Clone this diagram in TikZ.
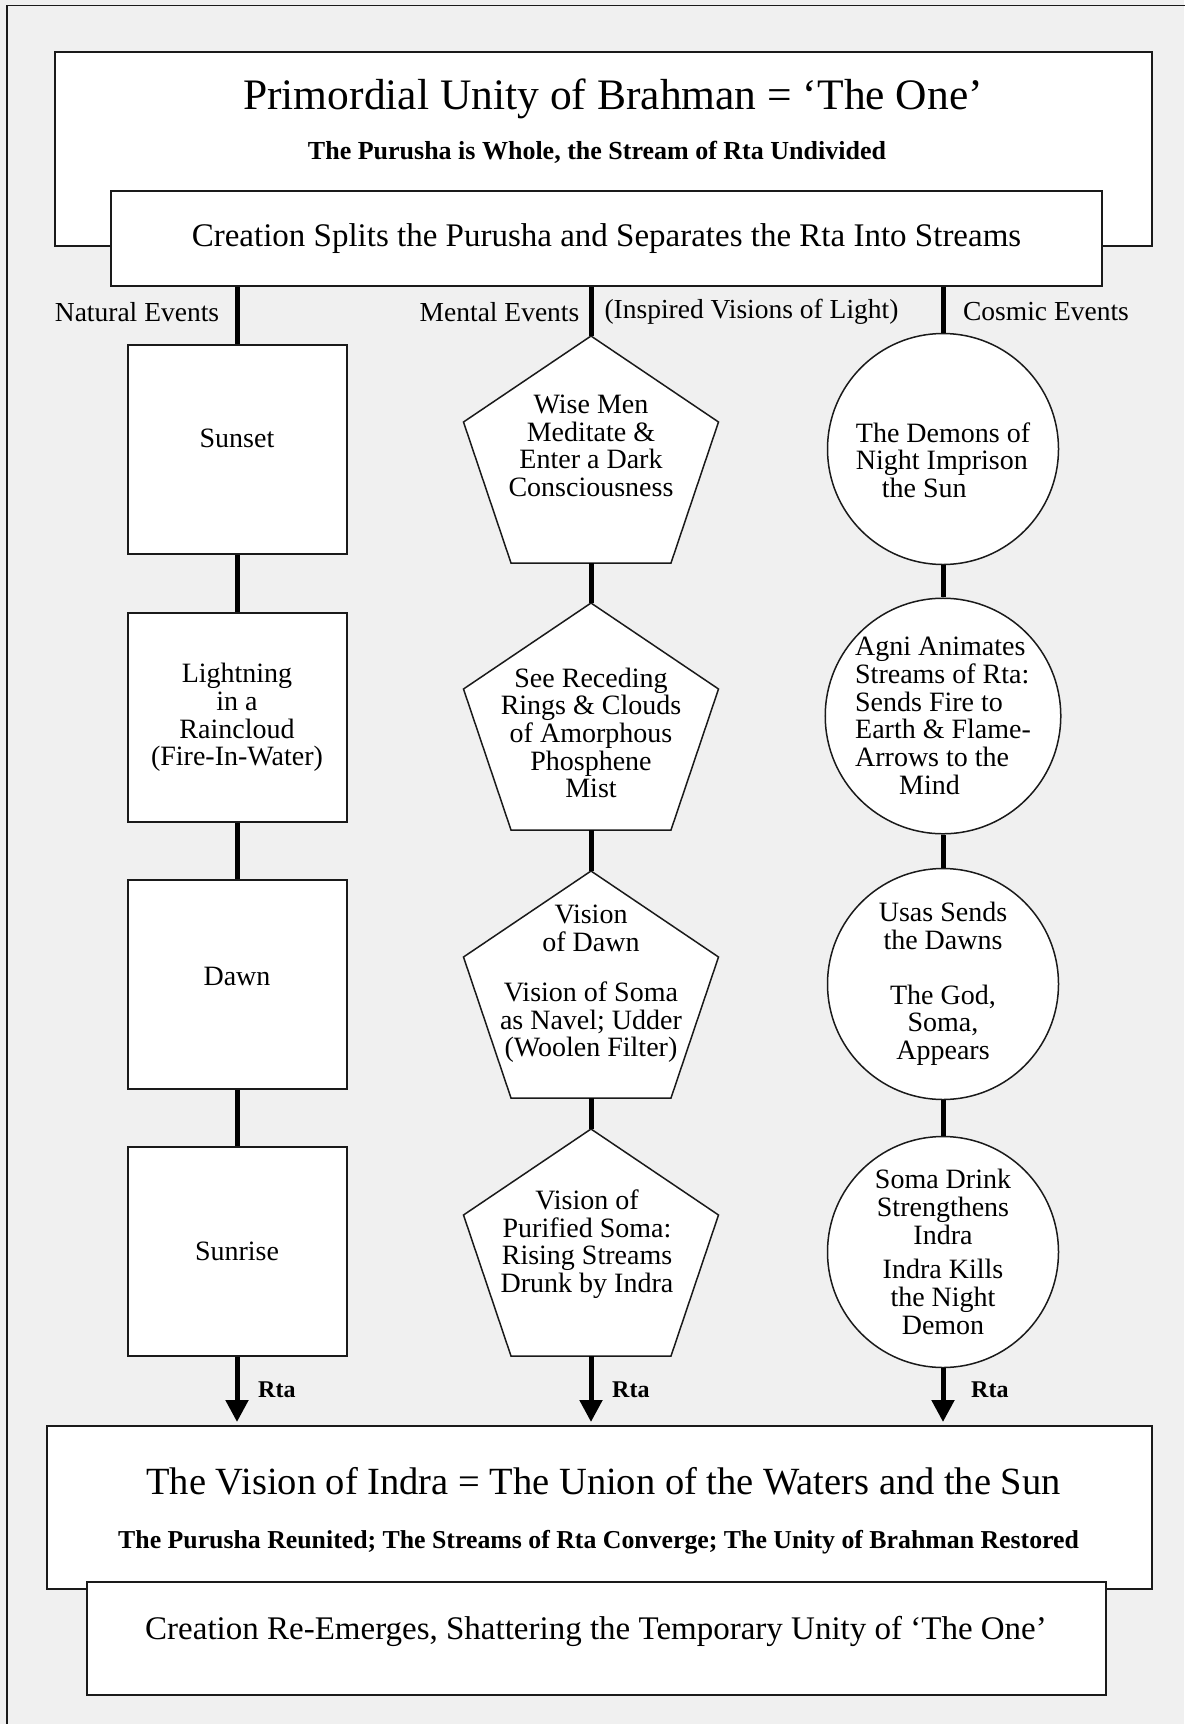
\documentclass[tikz,border=0pt]{standalone}
\usepackage{fontspec}
\setmainfont{Liberation Serif}
\usetikzlibrary{arrows.meta,calc}
\definecolor{bgc}{HTML}{F0F0F0}
\definecolor{edgec}{HTML}{1A1A1A}
\newcommand\mytitlefont{\fontsize{43.5}{50}\selectfont}
\newcommand\myvisfont{\fontsize{38.5}{44}\selectfont}
\newcommand\mysubfont{\fontsize{26}{30}\selectfont\bfseries}
\newcommand\myvissubfont{\fontsize{25.8}{30}\selectfont\bfseries}
\newcommand\mycreatefont{\fontsize{33}{38}\selectfont}
\newcommand\mylabelfont{\fontsize{27.5}{30}\selectfont}
\newcommand\mynodefont{\fontsize{28}{27.7}\selectfont}
\newcommand\myrtafont{\fontsize{24}{28}\selectfont\bfseries}
\newcommand\mypent[3]{%
  \filldraw[draw=edgec, line width=1.5pt, fill=white] (#2,#3) -- (#2+127.5,#3+86) -- (#2+80,#3+227) -- (#2-80,#3+227) -- (#2-127.5,#3+86) -- cycle;
  \node[pentframe] (#1) at (#2,#3+113.5) {};}
\begin{document}
\begin{tikzpicture}[x=1pt,y=-1pt,
  boxline/.style={draw=edgec, line width=2pt, fill=white},
  bigbox/.style={boxline, rectangle, inner sep=0pt},
  rectnode/.style={boxline, rectangle, minimum width=219pt, minimum height=209pt, inner sep=0pt, align=center, font=\mynodefont},
  pentframe/.style={rectangle, draw=none, minimum width=255pt, minimum height=227pt, inner sep=0pt},
  penttext/.style={align=center, font=\mynodefont, inner sep=0pt},
  circnode/.style={draw=edgec, line width=1.5pt, fill=white, circle, minimum size=231pt, inner sep=0pt, align=center, font=\mynodefont},
  conn/.style={line width=5pt, draw=black},
  arr/.style={conn, -{Triangle[width=22pt,length=22pt]}, shorten >=3pt},
  collabel/.style={font=\mylabelfont, inner sep=0pt},
  rtalabel/.style={font=\myrtafont, inner sep=0pt, anchor=west},
  plaintext/.style={inner sep=0pt}
]
\fill[bgc] (0,0) rectangle (1184,1724);
\useasboundingbox (0,0) rectangle (1184,1724);
\draw[draw=edgec, line width=1.5pt] (7,1730) -- (7,5.5) -- (1190,5.5);

% top box
\node[bigbox, minimum width=1097pt, minimum height=194pt] (topbox) at (603.5,149) {};
\node[plaintext, font=\mytitlefont] (toptitle) at (613,99) {Primordial Unity of Brahman = `The One'};
\node[plaintext, font=\mysubfont] (topsub) at (597,152) {The Purusha is Whole, the Stream of Rta Undivided};
\node[bigbox, minimum width=991pt, minimum height=95pt, font=\mycreatefont] (split) at (606.5,238.5) {Creation Splits the Purusha and Separates the Rta Into Streams};

% column labels
\node[collabel] (natlab) at (137,312) {Natural Events};
\node[collabel] (mentlab) at (499.5,312) {Mental Events};
\node[collabel] (insplab) at (751.5,312) {(Inspired Visions of Light)};
\node[collabel] (coslab) at (1046,312) {Cosmic Events};

% natural column
\node[rectnode, text depth=22pt] (sunset) at (237,449.5) {Sunset};
\node[rectnode] (light) at (237,717.5) {Lightning\\in a\\Raincloud\\(Fire-In-Water)};
\node[rectnode, text depth=16pt] (dawn) at (237,984) {Dawn};
\node[rectnode] (sunrise) at (237,1251) {Sunrise};

% mental column
\mypent{wise}{591}{336}
\mypent{see}{591}{603}
\mypent{visd}{591}{871}
\mypent{pur}{591}{1129}
\node[penttext] (wiset) at (591,446) {Wise Men\\Meditate \&\\Enter a Dark\\Consciousness};
\node[penttext] (seet) at (591,733) {See Receding\\Rings \& Clouds\\of Amorphous\\Phosphene\\Mist};
\node[penttext] (visdt) at (591,984) {Vision\\of Dawn\\[22pt]Vision of Soma\\as Navel; Udder\\(Woolen Filter)};
\node[penttext] (purt) at (587,1244) {Vision of\\Purified Soma:\\Rising Streams\\Drunk by Indra};

% cosmic column
\node[circnode] (demons) at (943,449) {};
\node[penttext, align=left] (demonst) at (943,460) {The Demons of\\Night Imprison\\\hspace*{26pt}the Sun};
\node[circnode, align=left] (agni) at (943,716) {Agni Animates\\Streams of Rta:\\Sends Fire to\\Earth \& Flame-\\Arrows to the\\\hspace*{44pt}Mind};
\node[circnode] (usas) at (943,984) {Usas Sends\\the Dawns\\[27pt]The God,\\Soma,\\Appears};
\node[circnode] (somad) at (943,1252) {Soma Drink\\Strengthens\\Indra\\[7pt]Indra Kills\\the Night\\Demon};

% connectors from split
\draw[conn] (sunset.north |- split.south) -- (sunset.north);
\draw[conn] (wise.north |- split.south) -- (wise.north);
\draw[conn] (demons.north |- split.south) -- (demons.north);
\draw[conn] (sunset.south) -- (light.north);
\draw[conn] (light.south) -- (dawn.north);
\draw[conn] (dawn.south) -- (sunrise.north);
\draw[conn] (wise.south) -- (see.north);
\draw[conn] (see.south) -- (visd.north);
\draw[conn] (visd.south) -- (pur.north);
\draw[conn] (demons.south) -- (agni.north);
\draw[conn] (agni.south) -- (usas.north);
\draw[conn] (usas.south) -- (somad.north);

% bottom boxes
\node[bigbox, minimum width=1105pt, minimum height=163pt] (vision) at (599.5,1507.5) {};
\node[plaintext, font=\myvisfont] (vistitle) at (603.6,1481) {The Vision of Indra = The Union of the Waters and the Sun};
\node[plaintext, font=\myvissubfont] (vissub) at (598.6,1542) {The Purusha Reunited; The Streams of Rta Converge; The Unity of Brahman Restored};
\node[bigbox, minimum width=1019pt, minimum height=113pt] (reemerge) at (596.5,1638.5) {};
\node[plaintext, font=\mycreatefont] (reemt) at (596,1631) {Creation Re-Emerges, Shattering the Temporary Unity of `The One'};

% arrows
\draw[arr] (sunrise.south) -- (sunrise.south |- vision.north);
\draw[arr] (pur.south) -- (pur.south |- vision.north);
\draw[arr] (somad.south) -- (somad.south |- vision.north);
\node[rtalabel] (rta1) at (258,1390) {Rta};
\node[rtalabel] (rta2) at (612,1390) {Rta};
\node[rtalabel] (rta3) at (971,1390) {Rta};
\end{tikzpicture}
\end{document}
